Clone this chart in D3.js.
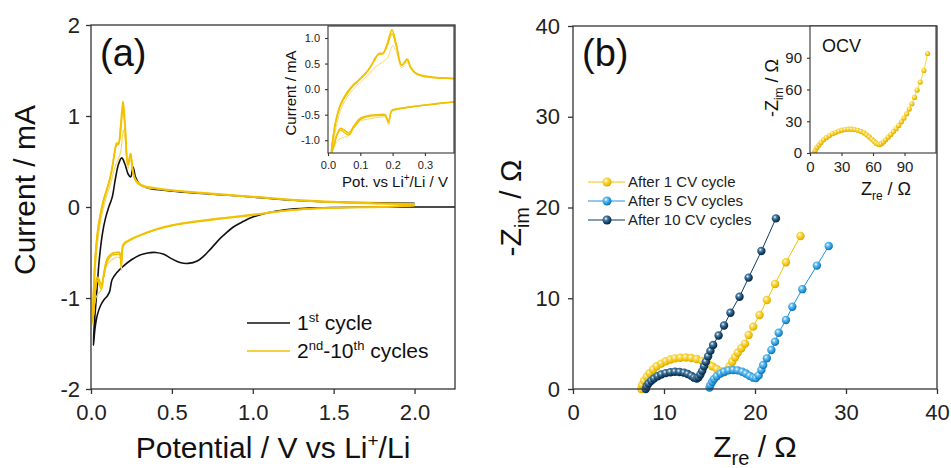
<!DOCTYPE html>
<html>
<head>
<meta charset="utf-8">
<script src="https://cdn.jsdelivr.net/npm/d3@7"></script>
<style>
body { margin: 0; background: #fff; }
svg { font-family: "Liberation Sans", Arial, sans-serif; }
</style>
</head>
<body>
<svg id="chart" width="951" height="468"></svg>
<script>
// ---- data ----
// CV loops, [potential V, current mA]; cathodic sweep then anodic sweep
var cycle1 = [
  [2.25, 0.0], [1.8, 0.0], [1.5, -0.005], [1.35, -0.012], [1.2, -0.03], [1.1, -0.06], [1.0, -0.11],
  [0.94, -0.16], [0.88, -0.22], [0.82, -0.31], [0.78, -0.38], [0.74, -0.46], [0.7, -0.535], [0.66, -0.59],
  [0.6, -0.62], [0.55, -0.61], [0.5, -0.57], [0.45, -0.52], [0.4, -0.5], [0.35, -0.505], [0.3, -0.53],
  [0.25, -0.58], [0.2, -0.65], [0.16, -0.72], [0.13, -0.8], [0.115, -0.93], [0.1, -0.98], [0.08, -1.02],
  [0.06, -1.08], [0.04, -1.18], [0.025, -1.33], [0.015, -1.52],
  [0.02, -1.3], [0.035, -0.95], [0.05, -0.6], [0.07, -0.3], [0.09, -0.12], [0.11, 0.0], [0.13, 0.1],
  [0.15, 0.3], [0.17, 0.47], [0.19, 0.54], [0.21, 0.47], [0.23, 0.36], [0.245, 0.33], [0.26, 0.44],
  [0.275, 0.33], [0.3, 0.25], [0.35, 0.21], [0.45, 0.185], [0.6, 0.16], [0.8, 0.135], [1.0, 0.11],
  [1.2, 0.08], [1.4, 0.06], [1.6, 0.05], [1.8, 0.045], [2.0, 0.04]
];
var cycle2 = [
  [2.0, 0.02], [1.8, 0.0], [1.6, -0.005], [1.4, -0.015], [1.2, -0.04], [1.0, -0.08], [0.8, -0.12],
  [0.6, -0.17], [0.5, -0.2], [0.4, -0.25], [0.3, -0.32], [0.25, -0.36], [0.21, -0.41], [0.196, -0.45],
  [0.188, -0.7], [0.178, -0.56], [0.16, -0.55], [0.13, -0.58], [0.1, -0.63], [0.08, -0.76], [0.06, -0.92],
  [0.045, -0.95], [0.03, -1.0], [0.02, -1.12], [0.01, -1.3],
  [0.015, -1.1], [0.025, -0.75], [0.04, -0.4], [0.06, -0.15], [0.09, 0.08], [0.12, 0.25], [0.15, 0.45],
  [0.17, 0.53], [0.185, 0.62], [0.2, 0.85], [0.212, 0.72], [0.228, 0.42], [0.245, 0.52], [0.258, 0.38],
  [0.28, 0.27], [0.32, 0.22], [0.4, 0.2], [0.5, 0.18], [0.7, 0.15], [1.0, 0.11], [1.3, 0.07],
  [1.6, 0.045], [2.0, 0.03]
];
var cycle5 = [
  [2.0, 0.02], [1.8, 0.0], [1.6, -0.005], [1.4, -0.015], [1.2, -0.04], [1.0, -0.085], [0.8, -0.125],
  [0.6, -0.17], [0.5, -0.2], [0.4, -0.245], [0.3, -0.31], [0.25, -0.35], [0.21, -0.39], [0.197, -0.42],
  [0.187, -0.65], [0.177, -0.5], [0.16, -0.5], [0.13, -0.51], [0.1, -0.57], [0.08, -0.72], [0.065, -0.86],
  [0.05, -0.8], [0.038, -0.77], [0.028, -0.88], [0.018, -1.1], [0.01, -1.27],
  [0.015, -1.0], [0.025, -0.62], [0.04, -0.3], [0.06, -0.08], [0.08, 0.08], [0.1, 0.2], [0.12, 0.33],
  [0.135, 0.47], [0.147, 0.6], [0.158, 0.7], [0.17, 0.7], [0.182, 0.86], [0.198, 1.16], [0.212, 0.86],
  [0.228, 0.47], [0.245, 0.59], [0.256, 0.43], [0.27, 0.32], [0.29, 0.27], [0.33, 0.23], [0.39, 0.21],
  [0.5, 0.185], [0.7, 0.155], [1.0, 0.115], [1.3, 0.075], [1.6, 0.05], [2.0, 0.035]
];
var cycle10 = [
  [2.0, 0.015], [1.8, 0.0], [1.6, -0.005], [1.4, -0.016], [1.2, -0.042], [1.0, -0.09], [0.8, -0.13],
  [0.6, -0.175], [0.5, -0.205], [0.4, -0.25], [0.3, -0.315], [0.25, -0.355], [0.21, -0.395], [0.197, -0.43],
  [0.187, -0.62], [0.177, -0.52], [0.16, -0.52], [0.13, -0.53], [0.1, -0.6], [0.08, -0.75], [0.065, -0.9],
  [0.05, -0.85], [0.038, -0.8], [0.028, -0.9], [0.018, -1.12], [0.01, -1.25],
  [0.015, -0.95], [0.025, -0.58], [0.04, -0.27], [0.06, -0.05], [0.08, 0.1], [0.1, 0.21], [0.12, 0.34],
  [0.135, 0.48], [0.147, 0.62], [0.158, 0.68], [0.17, 0.69], [0.182, 0.82], [0.198, 1.08], [0.212, 0.82],
  [0.228, 0.46], [0.245, 0.57], [0.256, 0.42], [0.27, 0.31], [0.29, 0.26], [0.33, 0.225], [0.39, 0.205],
  [0.5, 0.18], [0.7, 0.15], [1.0, 0.11], [1.3, 0.07], [1.6, 0.045], [2.0, 0.03]
];

// EIS, [Z_re ohm, -Z_im ohm]
var after1 = [
  [7.5, 0.0], [7.6, 0.45], [7.8, 0.9], [8.1, 1.35], [8.4, 1.75], [8.8, 2.15], [9.2, 2.5], [9.7, 2.8],
  [10.2, 3.05], [10.7, 3.25], [11.2, 3.38], [11.8, 3.45], [12.4, 3.48], [13.0, 3.42], [13.6, 3.3],
  [14.2, 3.1], [14.8, 2.8], [15.3, 2.5], [15.8, 2.2], [16.2, 1.95], [16.6, 1.85], [16.9, 2.05],
  [17.2, 2.5], [17.5, 3.0], [17.8, 3.5], [18.1, 4.0], [18.5, 4.5], [18.9, 5.0], [19.3, 5.95],
  [19.8, 6.87], [20.5, 8.15], [21.3, 9.8], [22.2, 11.57], [23.4, 13.96], [25.0, 16.86]
];
var after5 = [
  [15.0, 0.15], [15.1, 0.45], [15.3, 0.8], [15.5, 1.1], [15.8, 1.4], [16.2, 1.7], [16.6, 1.9],
  [17.1, 2.05], [17.6, 2.1], [18.1, 2.05], [18.6, 1.9], [19.0, 1.7], [19.4, 1.45], [19.8, 1.25],
  [20.1, 1.2], [20.4, 1.5], [20.7, 2.1], [20.9, 2.64], [21.3, 3.38], [21.8, 4.3], [22.2, 5.2],
  [22.6, 6.2], [23.4, 7.6], [24.1, 9.07], [25.2, 11.0], [26.8, 13.6], [28.1, 15.75]
];
var after10 = [
  [8.0, 0.0], [8.1, 0.3], [8.3, 0.6], [8.6, 0.9], [8.9, 1.15], [9.3, 1.4], [9.7, 1.6], [10.2, 1.75],
  [10.7, 1.85], [11.2, 1.9], [11.7, 1.88], [12.2, 1.8], [12.6, 1.65], [13.0, 1.45], [13.3, 1.25],
  [13.6, 1.15], [13.8, 1.3], [14.0, 1.6], [14.2, 2.0], [14.4, 2.5], [14.6, 3.0], [14.85, 3.6],
  [15.1, 4.2], [15.4, 4.85], [16.0, 5.9], [16.6, 7.0], [17.3, 8.4], [18.3, 10.17], [19.3, 12.27],
  [20.7, 15.2], [22.3, 18.8]
];
var ocv = [
  [4, 0], [5, 2.5], [6.5, 5], [8.5, 7.5], [10.5, 10], [13, 12.5], [15.5, 14.5], [18.5, 16.5],
  [21.5, 18.2], [24.5, 19.6], [27.5, 20.7], [30.5, 21.6], [33.5, 22.2], [36.5, 22.5], [39.5, 22.5],
  [42.5, 22.2], [45.5, 21.5], [48.5, 20.5], [51.5, 19], [54, 17.2], [56.5, 15.2], [59, 13], [61, 11],
  [63, 9.3], [65, 8.2], [66.5, 8.0], [68, 8.8], [70, 10.5], [72, 12.5], [74.5, 15], [77, 17.5],
  [79.5, 20.2], [82, 23], [84.5, 26], [87, 29.5], [89.5, 33], [92, 37], [94.5, 41.5], [97, 46.5],
  [99.5, 52.5], [102, 59.5], [105, 67], [108.5, 78], [112, 94]
];

// tick values
var cvTicksX = [0, 0.5, 1.0, 1.5, 2.0];
var cvTicksY = [-2, -1, 0, 1, 2];
var cvInsetTicksX = [0.0, 0.1, 0.2, 0.3];
var cvInsetTicksY = [-1.0, -0.5, 0.0, 0.5, 1.0];
var eisTicks = [0, 10, 20, 30, 40];
var ocvTicks = [0, 30, 60, 90];

var legendB = ['After 1 CV cycle', 'After 5 CV cycles', 'After 10 CV cycles'];

var svg = d3.select('#chart');
var yellow = '#f2c100';
var blue = '#1e92d8';
var navy = '#0f3d62';

// ---- scales ----
var xA = d3.scaleLinear().domain([0, 2.25]).range([91, 455]);
var yA = d3.scaleLinear().domain([-2, 2]).range([389, 25]);
var xAi = d3.scaleLinear().domain([0, 0.39]).range([328, 454]);
var yAi = d3.scaleLinear().domain([-1.25, 1.235]).range([153, 26]);
var xB = d3.scaleLinear().domain([0, 40]).range([573, 937]);
var yB = d3.scaleLinear().domain([0, 40]).range([389, 26]);
var xBi = d3.scaleLinear().domain([0, 120]).range([810, 936]);
var yBi = d3.scaleLinear().domain([0, 120]).range([153, 26]);

// sphere gradients for the markers
var defs = svg.append('defs');
var makeGrad = function(id, light, base, dark) {
  var g = defs.append('radialGradient').attr('id', id)
    .attr('cx', '38%').attr('cy', '35%').attr('r', '65%');
  g.append('stop').attr('offset', '0%').attr('stop-color', '#ffffff');
  g.append('stop').attr('offset', '30%').attr('stop-color', light);
  g.append('stop').attr('offset', '75%').attr('stop-color', base);
  g.append('stop').attr('offset', '100%').attr('stop-color', dark);
};
makeGrad('gY', '#f8dc60', '#f2c100', '#d9a600');
makeGrad('gB', '#6cc0ee', '#1e92d8', '#146fae');
makeGrad('gN', '#4d7fa6', '#0f3d62', '#082a45');

var clip = function(id, x, y) {
  defs.append('clipPath').attr('id', id).append('rect')
    .attr('x', x.range()[0]).attr('y', y.range()[1])
    .attr('width', x.range()[1] - x.range()[0]).attr('height', y.range()[0] - y.range()[1]);
};
clip('cA', xA, yA);
clip('cAi', xAi, yAi);
clip('cB', xB, yB);
clip('cBi', xBi, yBi);

// axes + frame; minor ticks drawn as a second axis with no labels
var drawAxes = function(x, y, o) {
  var g = svg.append('g');
  var bx = g.append('g').attr('transform', 'translate(0,' + y.range()[0] + ')');
  bx.call(d3.axisBottom(x).tickValues(o.xMinor).tickSize(o.tk2).tickSizeOuter(0).tickFormat(''));
  bx.call(d3.axisBottom(x).tickValues(o.xt).tickSize(o.tk).tickSizeOuter(0).tickPadding(o.padX).tickFormat(o.fx));
  var ly = g.append('g').attr('transform', 'translate(' + x.range()[0] + ',0)');
  ly.call(d3.axisLeft(y).tickValues(o.yMinor).tickSize(o.tk2).tickSizeOuter(0).tickFormat(''));
  ly.call(d3.axisLeft(y).tickValues(o.yt).tickSize(o.tk).tickSizeOuter(0).tickPadding(o.padY).tickFormat(o.fy));
  g.selectAll('g g, g').attr('font-family', null);
  g.selectAll('text').attr('font-size', o.fs).attr('fill', '#222');
  g.selectAll('line').attr('stroke', '#333').attr('stroke-width', o.sw);
  g.selectAll('.domain').remove();
  g.append('rect').attr('x', x.range()[0]).attr('y', y.range()[1])
    .attr('width', x.range()[1] - x.range()[0]).attr('height', y.range()[0] - y.range()[1])
    .attr('fill', 'none').attr('stroke', '#333').attr('stroke-width', o.sw);
  return g;
};

// ---- panel (a) ----
var cvLine = function(x, y) {
  return d3.line().x(function(d) { return x(d[0]); }).y(function(d) { return y(d[1]); })
    .curve(d3.curveCatmullRom.alpha(0.5));
};

var pa = svg.append('g').attr('clip-path', 'url(#cA)');
pa.append('path').datum(cycle1).attr('d', cvLine(xA, yA)).attr('fill', 'none')
  .attr('stroke', '#111').attr('stroke-width', 1.6);
pa.append('path').datum(cycle2).attr('d', cvLine(xA, yA)).attr('fill', 'none')
  .attr('stroke', '#f5d466').attr('stroke-width', 1.1);
pa.append('path').datum(cycle10).attr('d', cvLine(xA, yA)).attr('fill', 'none')
  .attr('stroke', yellow).attr('stroke-width', 1.5);
pa.append('path').datum(cycle5).attr('d', cvLine(xA, yA)).attr('fill', 'none')
  .attr('stroke', yellow).attr('stroke-width', 1.8);

drawAxes(xA, yA, {
  xt: cvTicksX, xMinor: [0.25, 0.75, 1.25, 1.75, 2.25], yt: cvTicksY, yMinor: [-1.5, -0.5, 0.5, 1.5],
  tk: 5, tk2: 3, padX: 10, padY: 6, fs: 22, sw: 1.3,
  fx: function(d) { return d.toFixed(1); }, fy: function(d) { return String(d); }
});

svg.append('text').attr('x', 100).attr('y', 66).attr('font-size', 38).attr('fill', '#111').text('(a)');

svg.append('text').attr('transform', 'translate(35,190) rotate(-90)').attr('text-anchor', 'middle')
  .attr('font-size', 30).attr('fill', '#111').text('Current / mA');

var xtA = svg.append('text').attr('x', 273).attr('y', 458).attr('text-anchor', 'middle')
  .attr('font-size', 30).attr('fill', '#111');
xtA.append('tspan').text('Potential / V vs Li');
xtA.append('tspan').attr('dy', -11).attr('font-size', 19).text('+');
xtA.append('tspan').attr('dy', 11).text('/Li');

// legend (a)
var legA = svg.append('g');
legA.append('line').attr('x1', 247).attr('x2', 290).attr('y1', 323).attr('y2', 323)
  .attr('stroke', '#111').attr('stroke-width', 1.6);
legA.append('line').attr('x1', 247).attr('x2', 290).attr('y1', 351).attr('y2', 351)
  .attr('stroke', yellow).attr('stroke-width', 1.6);
var la1 = legA.append('text').attr('x', 297).attr('y', 330).attr('font-size', 21).attr('fill', '#111');
la1.append('tspan').text('1');
la1.append('tspan').attr('dy', -8).attr('font-size', 13).text('st');
la1.append('tspan').attr('dy', 8).text(' cycle');
var la2 = legA.append('text').attr('x', 297).attr('y', 358).attr('font-size', 21).attr('fill', '#111');
la2.append('tspan').text('2');
la2.append('tspan').attr('dy', -8).attr('font-size', 13).text('nd');
la2.append('tspan').attr('dy', 8).text('-10');
la2.append('tspan').attr('dy', -8).attr('font-size', 13).text('th');
la2.append('tspan').attr('dy', 8).text(' cycles');

// inset (a)
svg.append('rect').attr('x', 328).attr('y', 26).attr('width', 126).attr('height', 127).attr('fill', '#fff');
var pai = svg.append('g').attr('clip-path', 'url(#cAi)');
pai.append('path').datum(cycle2).attr('d', cvLine(xAi, yAi)).attr('fill', 'none')
  .attr('stroke', '#f5d466').attr('stroke-width', 0.9);
pai.append('path').datum(cycle10).attr('d', cvLine(xAi, yAi)).attr('fill', 'none')
  .attr('stroke', yellow).attr('stroke-width', 1.3);
pai.append('path').datum(cycle5).attr('d', cvLine(xAi, yAi)).attr('fill', 'none')
  .attr('stroke', yellow).attr('stroke-width', 1.6);

drawAxes(xAi, yAi, {
  xt: cvInsetTicksX, xMinor: [0.05, 0.15, 0.25, 0.35], yt: cvInsetTicksY, yMinor: [-0.75, -0.25, 0.25, 0.75],
  tk: 3, tk2: 2, padX: 5, padY: 5, fs: 11, sw: 1.1,
  fx: function(d) { return d.toFixed(1); }, fy: function(d) { return d.toFixed(1); }
});
svg.append('text').attr('transform', 'translate(296,93) rotate(-90)').attr('text-anchor', 'middle')
  .attr('font-size', 15).attr('fill', '#111').text('Current / mA');
var xtAi = svg.append('text').attr('x', 395).attr('y', 187).attr('text-anchor', 'middle')
  .attr('font-size', 15).attr('fill', '#111');
xtAi.append('tspan').text('Pot. vs Li');
xtAi.append('tspan').attr('dy', -6).attr('font-size', 10).text('+');
xtAi.append('tspan').attr('dy', 6).text('/Li / V');

// ---- panel (b) ----
var drawEis = function(g, x, y, data, color, grad, r, sw) {
  g.append('path').datum(data)
    .attr('d', d3.line().x(function(d) { return x(d[0]); }).y(function(d) { return y(d[1]); }))
    .attr('fill', 'none').attr('stroke', color).attr('stroke-width', sw);
  g.selectAll(null).data(data).join('circle')
    .attr('cx', function(d) { return x(d[0]); }).attr('cy', function(d) { return y(d[1]); })
    .attr('r', r).attr('fill', 'url(#' + grad + ')');
};

var pb = svg.append('g');
drawEis(pb, xB, yB, after1, yellow, 'gY', 4.2, 1);
drawEis(pb, xB, yB, after5, blue, 'gB', 4.2, 1);
drawEis(pb, xB, yB, after10, navy, 'gN', 4.2, 1);

drawAxes(xB, yB, {
  xt: eisTicks, xMinor: [5, 15, 25, 35], yt: eisTicks, yMinor: [5, 15, 25, 35],
  tk: 5, tk2: 3, padX: 10, padY: 8, fs: 22, sw: 1.3,
  fx: function(d) { return String(d); }, fy: function(d) { return String(d); }
});

svg.append('text').attr('x', 582).attr('y', 66).attr('font-size', 38).attr('fill', '#111').text('(b)');

var ytB = svg.append('text').attr('transform', 'translate(521,208) rotate(-90)').attr('text-anchor', 'middle')
  .attr('font-size', 30).attr('fill', '#111');
ytB.append('tspan').text('-Z');
ytB.append('tspan').attr('dy', 8).attr('font-size', 20).text('im');
ytB.append('tspan').attr('dy', -8).text(' / \u03A9');

var xtB = svg.append('text').attr('x', 755).attr('y', 457).attr('text-anchor', 'middle')
  .attr('font-size', 30).attr('fill', '#111');
xtB.append('tspan').text('Z');
xtB.append('tspan').attr('dy', 8).attr('font-size', 20).text('re');
xtB.append('tspan').attr('dy', -8).text(' / \u03A9');

// legend (b)
var legB = svg.append('g');
var legCols = [[yellow, 'gY'], [blue, 'gB'], [navy, 'gN']];
legendB.forEach(function(name, i) {
  var ly = 182 + i * 19;
  legB.append('line').attr('x1', 588).attr('x2', 625).attr('y1', ly).attr('y2', ly)
    .attr('stroke', legCols[i][0]).attr('stroke-width', 1);
  legB.append('circle').attr('cx', 607).attr('cy', ly).attr('r', 4.5).attr('fill', 'url(#' + legCols[i][1] + ')');
  legB.append('text').attr('x', 628).attr('y', ly + 5).attr('font-size', 15).attr('fill', '#222').text(name);
});

// inset (b)
svg.append('rect').attr('x', 810).attr('y', 26).attr('width', 126).attr('height', 127).attr('fill', '#fff');
var pbi = svg.append('g').attr('clip-path', 'url(#cBi)');
drawEis(pbi, xBi, yBi, ocv, '#f5d000', 'gY', 2.6, 0.8);

drawAxes(xBi, yBi, {
  xt: ocvTicks, xMinor: [15, 45, 75, 105], yt: ocvTicks, yMinor: [15, 45, 75, 105],
  tk: 3, tk2: 2, padX: 5, padY: 5, fs: 15, sw: 1.1,
  fx: function(d) { return String(d); }, fy: function(d) { return String(d); }
});
svg.append('text').attr('x', 822).attr('y', 52).attr('font-size', 18).attr('fill', '#111').text('OCV');

var ytBi = svg.append('text').attr('transform', 'translate(778,88) rotate(-90)').attr('text-anchor', 'middle')
  .attr('font-size', 18).attr('fill', '#111');
ytBi.append('tspan').text('-Z');
ytBi.append('tspan').attr('dy', 5).attr('font-size', 12).text('im');
ytBi.append('tspan').attr('dy', -5).text(' / \u03A9');

var xtBi = svg.append('text').attr('x', 886).attr('y', 195).attr('text-anchor', 'middle')
  .attr('font-size', 18).attr('fill', '#111');
xtBi.append('tspan').text('Z');
xtBi.append('tspan').attr('dy', 5).attr('font-size', 12).text('re');
xtBi.append('tspan').attr('dy', -5).text(' / \u03A9');
</script>
</body>
</html>
